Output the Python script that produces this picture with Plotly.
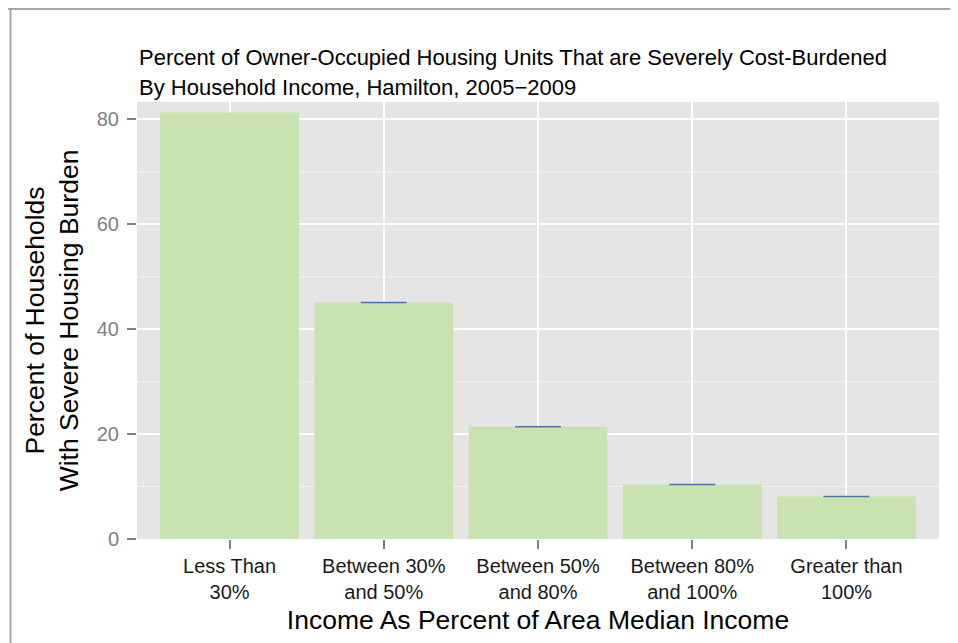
import plotly.graph_objects as go

# ---------------------------------------------------------------------------
# Data
# ---------------------------------------------------------------------------
income_groups = ["Less Than<br>30%", "Between 30%<br>and 50%", "Between 50%<br>and 80%",
                 "Between 80%<br>and 100%", "Greater than<br>100%"]
pct_burdened = [81.3, 45.1, 21.4, 10.4, 8.1]
# thin error markers drawn at bar tops (none visible on first bar)
err_center = [None, 45.1, 21.4, 10.4, 8.1]
err_size = [0, 0, 0, 0, 0]

title_lines = ["Percent of Owner-Occupied Housing Units That are Severely Cost-Burdened",
               "By Household Income, Hamilton, 2005\u22122009"]

# the page puts the figure 8px in from the top-left corner
W, H = 950, 635
L, R, T, B = 129, 19, 94, 104
FONT = "Liberation Sans, Arial, Helvetica, sans-serif"
pw, ph = W - L - R, H - T - B


def px_x(x):
    return (x - L) / pw


def px_y(y):
    return (H - B - y) / ph


fig = go.Figure()
fig.add_trace(go.Bar(
    x=income_groups,
    y=pct_burdened,
    width=0.9,
    marker=dict(color="#C9E3B0", line=dict(width=0)),
    hoverinfo="x+y",
))
fig.add_trace(go.Scatter(
    x=income_groups,
    y=err_center,
    mode="markers",
    marker=dict(size=1, opacity=0),
    error_y=dict(type="data", array=err_size, visible=True,
                 width=23, thickness=1.5, color="#4D74A8"),
    hoverinfo="skip",
))

# minor grid lines (ggplot style) at odd multiples of 10
for v in [10, 30, 50, 70]:
    fig.add_shape(type="line", xref="paper", yref="y", x0=0, x1=1, y0=v, y1=v,
                  line=dict(color="#F2F2F2", width=1), layer="below")

# frame lines (top and left) around the picture
fig.add_shape(type="line", xref="paper", yref="paper",
              x0=px_x(0), x1=px_x(W), y0=px_y(1), y1=px_y(1),
              line=dict(color="#A6A6A6", width=2))
fig.add_shape(type="line", xref="paper", yref="paper",
              x0=px_x(2.5), x1=px_x(2.5), y0=px_y(1), y1=px_y(H),
              line=dict(color="#A6A6A6", width=2))

# two-line title
for txt, py in zip(title_lines, [49, 79]):
    fig.add_annotation(text=txt, xref="paper", yref="paper",
                       x=0, y=px_y(py), xanchor="left", yanchor="middle",
                       showarrow=False, font=dict(size=22, color="#000000", family=FONT))

fig.update_layout(
    width=W, height=H,
    margin=dict(l=L, r=R, t=T, b=B),
    paper_bgcolor="#FFFFFF",
    plot_bgcolor="#E5E5E5",
    showlegend=False,
    bargap=0.1,
    font=dict(family=FONT),
    xaxis=dict(
        type="category",
        range=[-0.6, 4.6],
        showgrid=True, gridcolor="#FFFFFF", gridwidth=2,
        ticks="outside", ticklen=9, tickwidth=1.5, tickcolor="#7F7F7F",
        tickfont=dict(size=20, color="#1A1A1A"),
        title=dict(text="Income As Percent of Area Median Income",
                   font=dict(size=26.5, color="#000000"), standoff=8),
        zeroline=False, showline=False,
    ),
    yaxis=dict(
        range=[0, 83.3],
        tickvals=[0, 20, 40, 60, 80],
        showgrid=True, gridcolor="#FFFFFF", gridwidth=2,
        ticks="outside", ticklen=9, tickwidth=1.5, tickcolor="#7F7F7F",
        tickfont=dict(size=20, color="#7F7F7F"),
        ticklabelstandoff=4,
        title=dict(text="Percent of Households<br>With Severe Housing Burden",
                   font=dict(size=26.5, color="#000000"), standoff=10),
        zeroline=False, showline=False,
    ),
)

fig.write_html("out.html")
